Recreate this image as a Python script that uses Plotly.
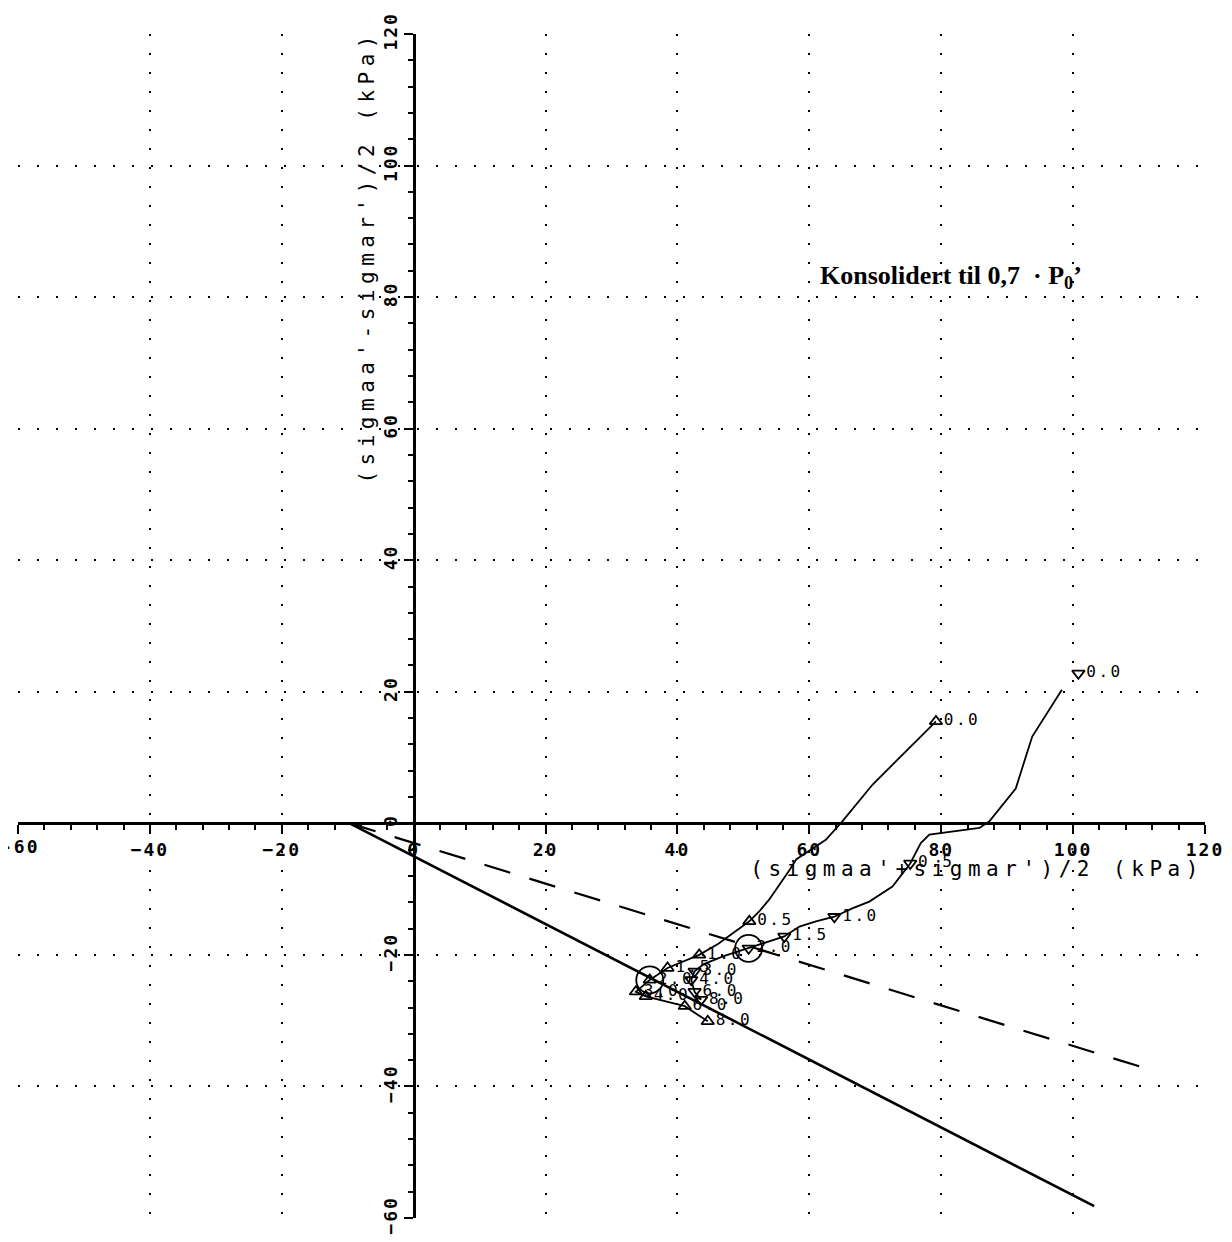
import plotly.graph_objects as go

# ---------------- data ----------------
# stress path 1 (triangle-up series)
path1_x = [79.2, 69.6, 65.0, 62.5, 58.0, 57.0, 53.9, 52.4, 50.9, 46.2, 43.3, 38.5, 35.8, 33.7, 35.2, 41.1, 44.6]
path1_y = [15.5, 5.9, 0.3, -2.5, -5.5, -7.1, -11.6, -13.4, -14.9, -18.3, -20.0, -22.0, -23.8, -25.6, -26.3, -27.8, -30.1]
mark1_x = [79.2, 50.9, 43.3, 38.5, 35.8, 33.7, 35.2, 41.1, 44.6]
mark1_y = [15.5, -14.9, -20.0, -22.0, -23.8, -25.6, -26.3, -27.8, -30.1]
mark1_lab = ["0.0", "0.5", "1.0", "1.5", "2.0", "3.0", "4.0", "6.0", "8.0"]

# stress path 2 (triangle-down series)
path2_x = [98.3, 93.8, 91.3, 87.3, 85.8, 78.2, 76.9, 75.3, 72.6, 69.1, 66.6, 63.8, 61.0, 58.5, 56.2,
           50.8, 47.0, 44.0, 42.6, 42.1, 42.6, 43.6]
path2_y = [20.3, 13.2, 5.3, 0.3, -0.7, -1.7, -3.0, -6.1, -9.6, -11.9, -12.9, -14.2, -14.9, -15.7, -17.2,
           -19.0, -20.2, -21.4, -22.5, -23.8, -25.6, -26.8]
mark2_x = [100.8, 75.3, 63.8, 56.2, 50.8, 42.6, 42.1, 42.6, 43.6]
mark2_y = [22.8, -6.1, -14.2, -17.2, -19.0, -22.5, -23.8, -25.6, -26.8]
mark2_lab = ["0.0", "0.5", "1.0", "1.5", "2.0", "3.0", "4.0", "6.0", "8.0"]

# failure points (circled)
fail_x = [35.8, 50.8]
fail_y = [-23.8, -19.0]

# failure envelopes
env_solid_x = [-9.7, 103.2]
env_solid_y = [0.0, -58.2]
env_dash_x = [-9.7, 111.5]
env_dash_y = [0.0, -37.4]

x_title = "(sigmaa'+sigmar')/2 (kPa)"
y_title = "(sigmaa'-sigmar')/2 (kPa)"
note = "Konsolidert til 0,7  · P<sub>0</sub>’"
edge_tick = "-60"

# ---------------- figure ----------------
MONO = "DejaVu Sans Mono"
fig = go.Figure()

fig.add_trace(go.Scatter(x=env_solid_x, y=env_solid_y, mode="lines",
                         line=dict(color="black", width=2.6), hoverinfo="skip"))
fig.add_trace(go.Scatter(x=env_dash_x, y=env_dash_y, mode="lines",
                         line=dict(color="black", width=2.2, dash="27px,20px"), hoverinfo="skip"))

fig.add_trace(go.Scatter(x=path1_x, y=path1_y, mode="lines",
                         line=dict(color="black", width=1.8)))
fig.add_trace(go.Scatter(x=path2_x, y=path2_y, mode="lines",
                         line=dict(color="black", width=1.8)))

fig.add_trace(go.Scatter(x=mark1_x, y=mark1_y, mode="markers+text", text=mark1_lab,
                         textposition="middle right",
                         textfont=dict(family=MONO, size=16, color="black"),
                         marker=dict(symbol="triangle-up-open", size=11, color="black",
                                     line=dict(width=1.8, color="black"))))
fig.add_trace(go.Scatter(x=mark2_x, y=mark2_y, mode="markers+text", text=mark2_lab,
                         textposition="middle right",
                         textfont=dict(family=MONO, size=16, color="black"),
                         marker=dict(symbol="triangle-down-open", size=11, color="black",
                                     line=dict(width=1.8, color="black"))))
fig.add_trace(go.Scatter(x=fail_x, y=fail_y, mode="markers",
                         marker=dict(symbol="circle-open", size=27, color="black",
                                     line=dict(width=1.8, color="black"))))

axis_common = dict(
    range=[-60, 120], dtick=20, tick0=0,
    anchor="free", position=1 / 3, automargin=False,
    showline=True, linecolor="black", linewidth=2.6,
    ticks="outside", ticklen=9, tickwidth=2, tickcolor="black",
    minor=dict(dtick=4, ticks="outside", ticklen=5, tickwidth=2, tickcolor="black", showgrid=False),
    showgrid=True, gridcolor="black", gridwidth=2, griddash="2px,17px",
    zeroline=False,
    tickfont=dict(family=MONO, size=18, color="black", weight="bold"),
)
fig.update_xaxes(**axis_common)
fig.update_yaxes(**axis_common, tickangle=-90)

# left-most x tick label, partly cut by the page edge as in the reference
fig.add_annotation(x=-60, y=0, xref="x", yref="y", text=edge_tick, showarrow=False,
                   yanchor="top", yshift=-11, xshift=2,
                   font=dict(family=MONO, size=18, color="black", weight="bold"))

fig.add_annotation(x=85.4, y=-7.0, xref="x", yref="y", text=x_title, showarrow=False,
                   font=dict(family=MONO, size=21, color="black"))
fig.add_annotation(x=-7.1, y=86.1, xref="x", yref="y", text=y_title, showarrow=False,
                   textangle=-90, font=dict(family=MONO, size=21, color="black"))
fig.add_annotation(x=61.3, y=83.0, xref="x", yref="y", text=note, showarrow=False,
                   xanchor="left",
                   font=dict(family="Liberation Serif", size=26, color="black", weight="bold"))

# page body has an 8px default margin, so the figure is sized to fit the window
fig.update_layout(
    width=1224, height=1234,
    margin=dict(l=10, r=27, t=26, b=24),
    plot_bgcolor="white", paper_bgcolor="white",
    showlegend=False,
)

post = """
document.querySelectorAll('g.annotation text').forEach(function(t){
  var s = t.textContent || '';
  if (s.indexOf('(sigma') === 0) { t.style.letterSpacing = '5.5px'; }
  if (s === '-60') { t.style.letterSpacing = '2px'; }
});
document.querySelectorAll('g.textpoint text').forEach(function(t){ t.style.letterSpacing = '2.5px'; });
document.querySelectorAll('g.xtick text, g.ytick text').forEach(function(t){ t.style.letterSpacing = '2px'; });
"""
fig.write_html("out.html", post_script=post)
